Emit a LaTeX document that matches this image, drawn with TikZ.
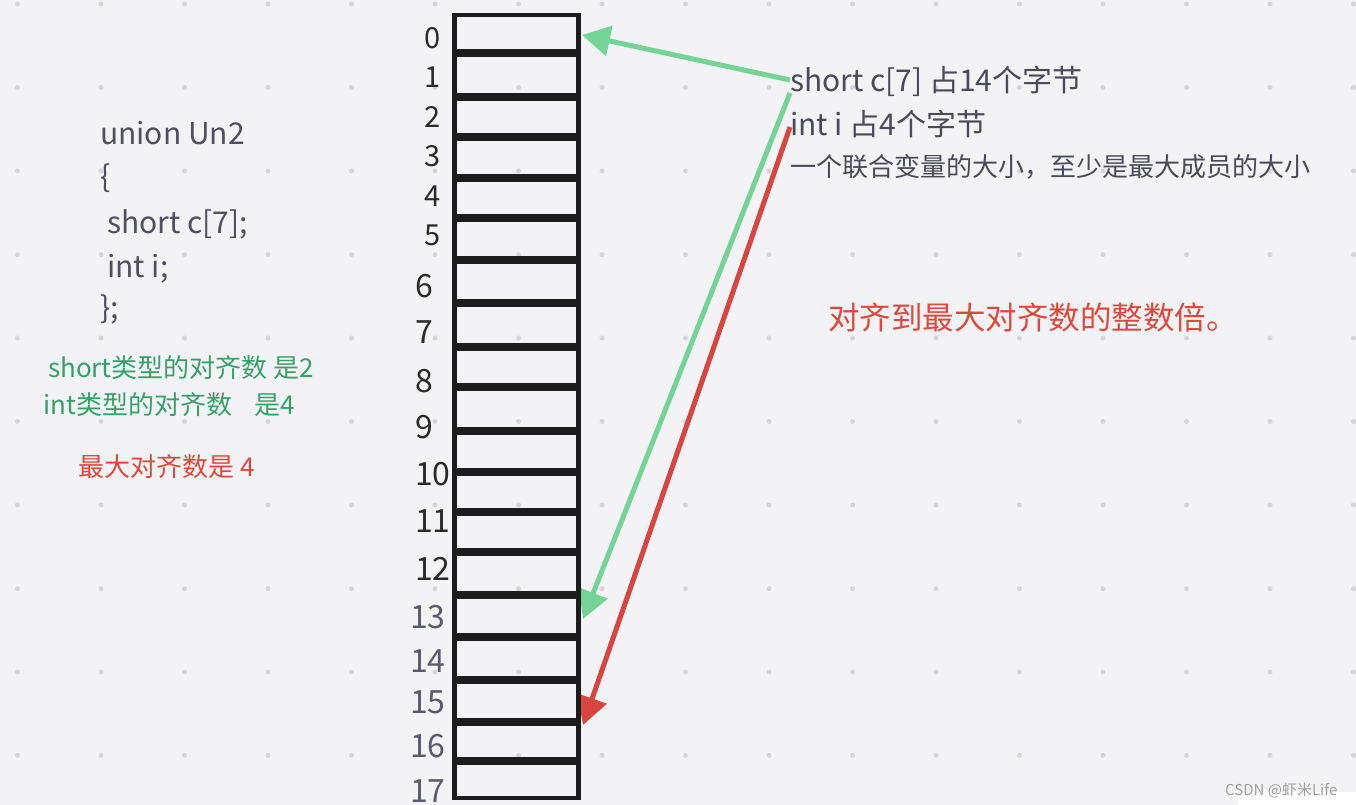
\documentclass[tikz,border=0pt]{standalone}
\usepackage{fontspec}
\setmainfont{Noto Sans CJK SC}
\usetikzlibrary{arrows.meta}
\definecolor{bg}{HTML}{F3F3F5}
\definecolor{dotc}{HTML}{D4D4D9}
\definecolor{codec}{HTML}{4F4F5E}
\definecolor{greent}{HTML}{36A06B}
\definecolor{redt}{HTML}{E0483E}
\definecolor{rtext}{HTML}{4A4A58}
\definecolor{garrow}{HTML}{74D497}
\definecolor{rarrow}{HTML}{D9463F}
\definecolor{cellc}{HTML}{1C1C1C}
\definecolor{lblA}{HTML}{2A2A2A}
\definecolor{lblB}{HTML}{5A5A6E}
\definecolor{wm}{HTML}{A0A0A4}
\tikzset{
  code/.style={anchor=base west, inner sep=0pt, text=codec, font=\fontsize{30}{34}\selectfont},
  gtxt/.style={anchor=base west, inner sep=0pt, text=greent, font=\fontsize{26}{30}\selectfont},
  rtxt/.style={anchor=base west, inner sep=0pt, text=redt, font=\fontsize{26}{30}\selectfont},
  note/.style={anchor=base west, inner sep=0pt, text=rtext, font=\fontsize{30}{34}\selectfont},
  bignote/.style={anchor=base west, inner sep=0pt, text=redt, font=\fontsize{31.5}{35}\selectfont},
  lblsmall/.style={anchor=base west, inner sep=0pt, text=lblA, font=\fontsize{29}{32}\selectfont},
  lblbig/.style={anchor=base west, inner sep=0pt, text=lblA, font=\fontsize{32}{36}\selectfont},
  lblgray/.style={anchor=base west, inner sep=0pt, text=lblB, font=\fontsize{32}{36}\selectfont},
  cellbox/.style={draw=cellc, line width=4.2pt},
  garr/.style={draw=garrow, line width=5pt, -{Triangle[length=28pt,width=30pt]}},
  rarr/.style={draw=rarrow, line width=5pt, -{Triangle[length=28pt,width=30pt]}},
}
\begin{document}
\begin{tikzpicture}[x=1pt,y=-1pt]
\useasboundingbox (0,0) rectangle (1356,805);
\fill[bg] (0,0) rectangle (1356,805);
% dot grid
\foreach \i in {0,...,16} {
  \foreach \j in {0,...,9} {
    \fill[dotc] ({17.5+83.5*\i},{4+83.5*\j}) circle (2.5);
  }
}
% code
\node[code] (c1) at (100,145) {union Un2};
\node[code] (c2) at (100,188) {\{};
\node[code] (c3) at (107,233) {short c[7];};
\node[code] (c4) at (107,277) {int i;};
\node[code] (c5) at (100,318) {\};};
% alignment notes
\node[gtxt] (g1) at (48,377) {short类型的对齐数 是2};
\node[gtxt] (g2) at (43,414) {int类型的对齐数\hspace{23pt}是4};
\node[rtxt] (r1) at (78,476) {最大对齐数是 4};
% right notes
\node[note] (t1) at (790,92) {short c[7] 占14个字节};
\node[note] (t2) at (790,136) {int i 占4个字节};
\node[note, font=\fontsize{26}{30}\selectfont] (t3) at (790,176) {一个联合变量的大小，至少是最大成员的大小};
\node[bignote] (t4) at (828,329) {对齐到最大对齐数的整数倍。};
% arrow endpoints
\coordinate (s1) at (790,80);
\coordinate (s2) at (790,93);
\coordinate (s3) at (790,127);
\coordinate (e1) at (582,35);
\coordinate (e2) at (583,619);
\coordinate (e3) at (583,725);
\draw[garr] (s1) -- (e1);
\draw[garr] (s2) -- (e2);
\draw[rarr] (s3) -- (e3);
% memory cells
\foreach \a/\b [count=\k] in {13/53,53/97,97/137,137/178,178/218,218/260,260/303,303/347,347/387,387/431,431/472,472/512,512/552,552/595,595/637,637/680,680/722,722/761,761/800} {
  \draw[cellbox] (454.5,{\a+2}) rectangle (578.5,{\b-2});
}
% index labels
\node[lblsmall] (l0) at (424,49) {0};
\node[lblsmall] (l1) at (424,88) {1};
\node[lblsmall] (l2) at (424,128) {2};
\node[lblsmall] (l3) at (424,167) {3};
\node[lblsmall] (l4) at (424,207) {4};
\node[lblsmall] (l5) at (424,245) {5};
\node[lblbig] (l6) at (415,297) {6};
\node[lblbig] (l7) at (415,343) {7};
\node[lblbig] (l8) at (415,392) {8};
\node[lblbig] (l9) at (415,438) {9};
\node[lblbig] (l10) at (415,485) {10};
\node[lblbig] (l11) at (415,532) {11};
\node[lblbig] (l12) at (415,580) {12};
\node[lblgray] (l13) at (410,628) {13};
\node[lblgray] (l14) at (410,672) {14};
\node[lblgray] (l15) at (410,713) {15};
\node[lblgray] (l16) at (410,757) {16};
\node[lblgray] (l17) at (410,802) {17};
% watermark
\fill[white, rounded corners=8pt] (1238,792) rectangle (1366,815);
\node[anchor=base west, inner sep=0pt, text=wm, font=\fontsize{15}{17}\selectfont] (wmk) at (1225,795) {CSDN @虾米Life};
\end{tikzpicture}
\end{document}
